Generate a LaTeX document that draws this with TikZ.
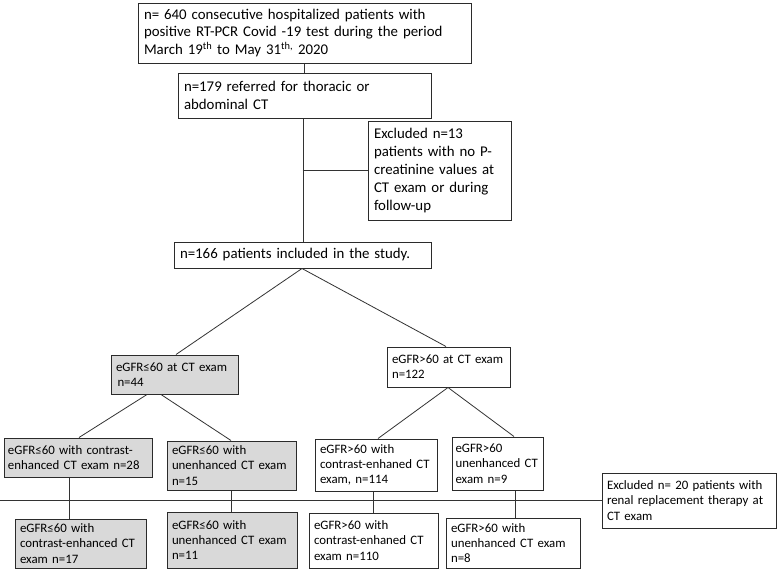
\documentclass[tikz,border=0pt]{standalone}
\usepackage{fontspec}
\setmainfont{Carlito}
\newcommand\myupfont{\fontsize{14.85}{17.8}\selectfont}
\newcommand\mylowfont{\fontsize{12.85}{15.2}\selectfont}
\definecolor{boxline}{HTML}{2B2B2B}
\definecolor{linecol}{HTML}{333333}
\definecolor{greyfill}{HTML}{D9D9D9}
\tikzset{
  pbox/.style={draw=boxline, line width=1pt, inner xsep=5pt, inner ysep=1pt, align=left, font=\mylowfont},
  upbox/.style={pbox, inner xsep=6pt, font=\myupfont},
  gbox/.style={pbox, fill=greyfill},
  conn/.style={draw=linecol, line width=0.8pt},
}
\begin{document}
\begin{tikzpicture}[x=1pt, y=-1pt]
\useasboundingbox (0,0) rectangle (778,571);
\fill[white] (0,0) rectangle (778,571);
% top part
\node[upbox, minimum width=333pt, minimum height=60pt, text width=321pt] (B1) at (304.5,33)
  {n= 640 consecutive hospitalized patients with\\positive RT-PCR Covid -19 test during the period\\March 19\textsuperscript{th} to May 31\textsuperscript{th,} 2020};
\node[upbox, minimum width=253pt, minimum height=45pt, text width=241pt] (B2) at (304.5,95.5)
  {n=179 referred for thoracic or\\abdominal CT};
\node[upbox, minimum width=143pt, minimum height=99pt, text width=131pt] (Ex1) at (439.5,170.5)
  {Excluded n=13\\patients with no P-\\creatinine values at\\CT exam or during\\follow-up};
\node[upbox, minimum width=257pt, minimum height=26pt, text width=245pt] (B4) at (302.5,255)
  {n=166 patients included in the study.};
% second level
\node[gbox, minimum width=127pt, minimum height=39pt, text width=117pt] (L) at (174.5,374.5)
  {eGFR≤60 at CT exam\\\hspace{1.5pt}n=44};
\node[pbox, minimum width=123pt, minimum height=40pt, text width=113pt] (R) at (448.5,367)
  {eGFR>60 at CT exam\\n=122};
% third level
\node[gbox, inner xsep=4pt, minimum width=148pt, minimum height=39pt, text width=140pt] (LL) at (78,457.5)
  {eGFR≤60 with contrast-\\enhanced CT exam n=28};
\node[gbox, minimum width=129pt, minimum height=49pt, text width=119pt] (LR) at (231.5,465.5)
  {eGFR≤60 with\\unenhanced CT exam\\n=15};
\node[pbox, minimum width=122pt, minimum height=52pt, text width=112pt] (RL) at (376,465)
  {eGFR>60 with\\contrast-enhaned CT\\exam, n=114};
\node[pbox, inner xsep=3.5pt, minimum width=91pt, minimum height=53pt, text width=84pt] (RR) at (497.5,463.5)
  {eGFR>60\\unenhanced CT\\exam n=9};
\node[pbox, minimum width=174pt, minimum height=55pt, text width=164pt] (Ex2) at (689,500.5)
  {Excluded n= 20 patients with\\renal replacement therapy at\\CT exam};
% bottom level
\node[gbox, minimum width=131pt, minimum height=49pt, text width=121pt] (BLL) at (80.5,543.5)
  {eGFR≤60 with\\contrast-enhanced CT\\exam n=17};
\node[gbox, minimum width=130pt, minimum height=56pt, text width=120pt] (BLR) at (232,540)
  {eGFR≤60 with\\unenhanced CT exam\\n=11};
\node[pbox, minimum width=129pt, minimum height=55pt, text width=119pt] (BRL) at (373.5,540.5)
  {eGFR>60 with\\contrast-enhaned CT\\exam n=110};
\node[pbox, minimum width=134pt, minimum height=50pt, text width=124pt] (BRR) at (513,543)
  {eGFR>60 with\\unenhanced CT exam\\n=8};
\coordinate (hl) at (0,500.5);
% connectors
\draw[conn] (B1.south) -- (B2.north);
\draw[conn] ([xshift=-1.5pt]B2.south) -- ([xshift=0.5pt]B4.north);
\draw[conn] (Ex1.west -| B4.north) -- (Ex1.west);
\draw[conn] ([xshift=-0.5pt]B4.south) -- ([xshift=1.5pt]L.north);
\draw[conn] ([xshift=-0.5pt]B4.south) -- ([xshift=-2.5pt]R.north);
\draw[conn] ([xshift=-27.5pt]L.south) -- ([xshift=1pt]LL.north);
\draw[conn] ([xshift=-13.5pt]L.south) -- ([xshift=-0.5pt]LR.north);
\draw[conn] ([xshift=-0.5pt]R.south) -- ([xshift=2pt]RL.north);
\draw[conn] ([xshift=-0.5pt]R.south) -- ([xshift=16.5pt]RR.north);
\draw[conn] ([xshift=-9pt]LL.south) -- ([xshift=-11.5pt]BLL.north);
\draw[conn] (LR.south) -- ([xshift=-0.5pt]BLR.north);
\draw[conn] ([xshift=-3pt]RL.south) -- ([xshift=-0.5pt]BRL.north);
\draw[conn] ([xshift=17.5pt]RR.south) -- ([xshift=2pt]BRR.north);
\draw[conn] (hl) -- (Ex2.west);
\end{tikzpicture}
\end{document}
